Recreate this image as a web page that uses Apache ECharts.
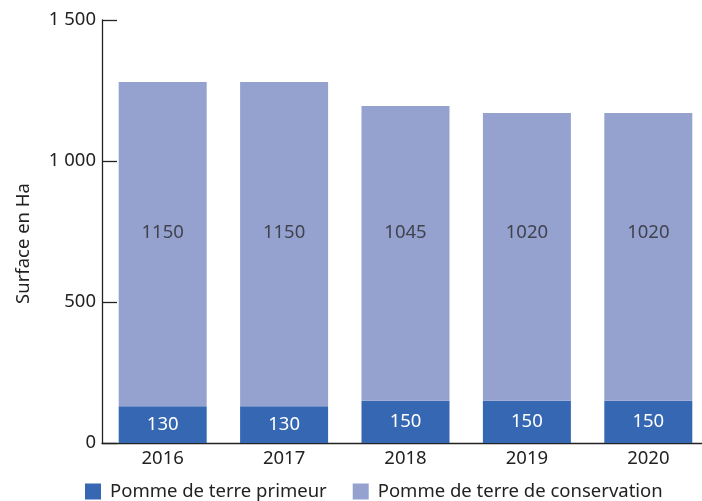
<!DOCTYPE html>
<html>
<head>
<meta charset="utf-8">
<script src="https://cdn.jsdelivr.net/npm/echarts@6/dist/echarts.min.js"></script>
<style>html,body{margin:0;padding:0;background:#fff}#c{width:702px;height:501px}</style>
</head>
<body>
<div id="c"></div>
<script>
var years = ['2016', '2017', '2018', '2019', '2020'];
var primeur = [130, 130, 150, 150, 150];
var conservation = [1150, 1150, 1045, 1020, 1020];
var yTicks = [0, 500, 1000, 1500];

var FONT = 'Noto Sans';
var FS = 18.5;
var LABEL_LEVEL = 745;
var chart = echarts.init(document.getElementById('c'));
chart.setOption({
  animation: false,
  textStyle: { fontFamily: FONT },
  grid: { left: 102, top: 20, width: 607, height: 423, containLabel: false, outerBoundsMode: 'none' },
  legend: {
    left: 85, top: 482, padding: 0, itemWidth: 16, itemHeight: 16, itemGap: 26,
    icon: 'rect',
    textStyle: { fontSize: FS, color: '#222', fontFamily: FONT, padding: [0, 0, 0, 4] },
    data: ['Pomme de terre primeur', 'Pomme de terre de conservation']
  },
  xAxis: {
    type: 'category', data: years,
    axisLine: { lineStyle: { color: '#222', width: 1.3 } },
    axisTick: { inside: true, length: 10, lineStyle: { color: '#222', width: 1.3 } },
    axisLabel: { color: '#222', fontSize: FS, margin: 6, fontFamily: FONT }
  },
  yAxis: {
    type: 'value', min: yTicks[0], max: yTicks[yTicks.length - 1], interval: 500,
    name: 'Surface en Ha', nameLocation: 'middle', nameGap: 69, nameRotate: 90,
    nameTextStyle: { fontSize: FS, color: '#222', fontFamily: FONT, padding: [0, 24, 0, 0] },
    axisLine: { show: true, lineStyle: { color: '#222', width: 1.3 } },
    axisTick: { show: true, inside: true, length: 15, lineStyle: { color: '#222', width: 1.3 } },
    splitLine: { show: false },
    axisLabel: {
      color: '#222', fontSize: FS, margin: 6, fontFamily: FONT,
      formatter: function (v) { return String(v).replace(/\B(?=(\d{3})+(?!\d))/g, ' '); }
    }
  },
  series: [
    {
      name: 'Pomme de terre primeur', type: 'bar', stack: 's', data: primeur,
      barWidth: 88,
      itemStyle: { color: '#3567B3' },
      label: { show: true, position: 'inside', color: '#fff', fontSize: FS, fontFamily: FONT }
    },
    {
      name: 'Pomme de terre de conservation', type: 'bar', stack: 's', data: conservation,
      barWidth: 88,
      itemStyle: { color: '#95A2D0' },
      label: { show: false }
    },
    {
      type: 'scatter', symbolSize: 0, silent: true,
      data: conservation.map(function () { return LABEL_LEVEL; }),
      label: {
        show: true, position: 'inside', color: '#2a2a2a', fontSize: FS, fontFamily: FONT,
        formatter: function (p) { return String(conservation[p.dataIndex]); }
      }
    }
  ]
});
</script>
</body>
</html>
